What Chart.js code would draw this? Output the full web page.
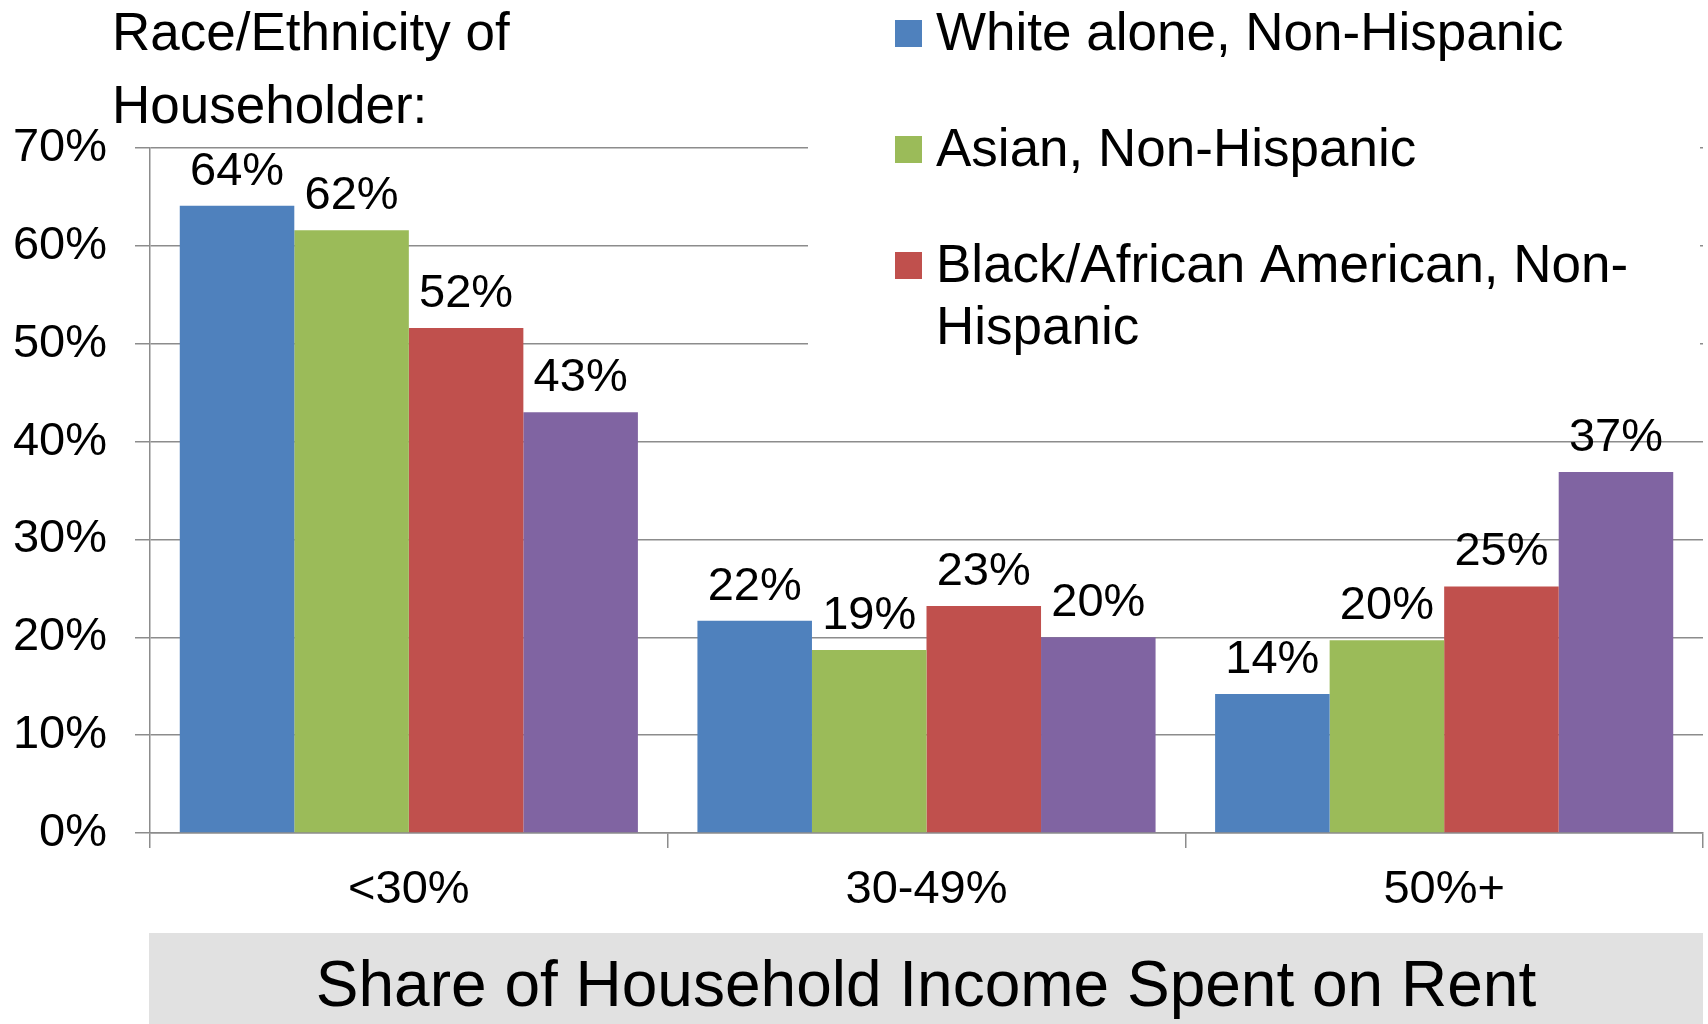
<!DOCTYPE html>
<html>
<head>
<meta charset="utf-8">
<script src="https://cdn.jsdelivr.net/npm/chart.js@4"></script>
<style>
  html, body { margin: 0; padding: 0; background: #ffffff; }
  #wrap { width: 1708px; height: 1024px; position: relative; }
</style>
</head>
<body>
<div id="wrap"><canvas id="c" width="1708" height="1024"></canvas></div>
<script>
// ---- data ----
const categories = ['<30%', '30-49%', '50%+'];
const seriesNames = ['White alone, Non-Hispanic', 'Asian, Non-Hispanic', 'Black/African American, Non-Hispanic', 'Hispanic'];
const whiteValues = [64.1, 21.7, 14.2];
const asianValues = [61.6, 18.7, 19.7];
const blackValues = [51.6, 23.2, 25.2];
const hispanicValues = [43.0, 20.0, 36.9];
const seriesColors = ['#4F81BD', '#9BBB59', '#C0504D', '#8064A2'];
const legendSeries = [0, 1, 2];
const yTickValues = [0, 10, 20, 30, 40, 50, 60, 70];
const titleLines = ['Race/Ethnicity of', 'Householder:'];
const xAxisTitle = 'Share of Household Income Spent on Rent';

const FONT = '"Liberation Sans", Arial, sans-serif';
const allValues = [whiteValues, asianValues, blackValues, hispanicValues];

const dataLabels = {
  id: 'dataLabels',
  afterDatasetsDraw(chart) {
    const ctx = chart.ctx;
    ctx.save();
    ctx.font = '47px ' + FONT;
    ctx.fillStyle = '#000';
    ctx.textAlign = 'center';
    ctx.textBaseline = 'alphabetic';
    chart.data.datasets.forEach((ds, i) => {
      const meta = chart.getDatasetMeta(i);
      meta.data.forEach((bar, j) => {
        ctx.fillText(Math.round(ds.data[j]) + '%', bar.x, bar.y - 21);
      });
    });
    ctx.restore();
  }
};

function wrapText(ctx, text, maxW) {
  const tokens = text.match(/[^\s-]+-?|\s+/g) || [text];
  const lines = [];
  let cur = '';
  tokens.forEach(t => {
    const test = cur + t;
    if (ctx.measureText(test.trim()).width > maxW && cur.trim() !== '') {
      lines.push(cur.trim());
      cur = t.trim() === '' ? '' : t;
    } else {
      cur = test;
    }
  });
  if (cur.trim() !== '') lines.push(cur.trim());
  return lines;
}

// white legend background that hides the gridlines behind the legend
const legendBackground = {
  id: 'legendBackground',
  beforeDatasetsDraw(chart) {
    const ctx = chart.ctx;
    ctx.save();
    ctx.fillStyle = '#ffffff';
    ctx.fillRect(808, 0, 1700 - 808, 380);
    ctx.restore();
  }
};

const decorations = {
  id: 'decorations',
  afterDraw(chart) {
    const ctx = chart.ctx;
    const area = chart.chartArea;
    ctx.save();
    // title (top-left)
    ctx.font = '53px ' + FONT;
    ctx.fillStyle = '#000';
    ctx.textAlign = 'left';
    ctx.textBaseline = 'alphabetic';
    titleLines.forEach((t, i) => ctx.fillText(t, 112, 50 + i * 73));

    // legend (top-right)
    ctx.font = '53px ' + FONT;
    let y = 50;
    legendSeries.forEach(idx => {
      const ds = chart.data.datasets[idx];
      ctx.fillStyle = ds.backgroundColor;
      ctx.fillRect(895, y - 30, 27, 27);
      ctx.fillStyle = '#000';
      const lines = wrapText(ctx, ds.label, 740);
      lines.forEach((ln, k) => ctx.fillText(ln, 936, y + k * 62));
      y += 116;
    });

    // x-axis title box
    const boxL = area.left - 1;
    const boxR = area.right;
    ctx.fillStyle = '#E1E1E1';
    ctx.fillRect(boxL, 933, boxR - boxL, 1024 - 933);
    ctx.fillStyle = '#000';
    ctx.font = '64px ' + FONT;
    ctx.textAlign = 'center';
    ctx.fillText(xAxisTitle, (boxL + boxR) / 2, 1006);
    ctx.restore();
  }
};

const gridColor = '#8C8C8C';

new Chart(document.getElementById('c'), {
  type: 'bar',
  data: {
    labels: categories,
    datasets: allValues.map((vals, i) => ({
      label: seriesNames[i],
      data: vals,
      backgroundColor: seriesColors[i],
      borderWidth: 0,
      categoryPercentage: 0.885,
      barPercentage: 1.0
    }))
  },
  options: {
    responsive: false,
    animation: false,
    devicePixelRatio: 1,
    layout: { padding: { top: 148, right: 5, bottom: 0, left: 0 } },
    plugins: {
      legend: { display: false },
      tooltip: { enabled: false },
      title: { display: false }
    },
    scales: {
      x: {
        offset: true,
        grid: {
          offset: true,
          drawOnChartArea: false,
          drawTicks: true,
          tickLength: 15,
          color: gridColor,
          lineWidth: 1.5
        },
        border: { display: true, color: gridColor, width: 1.5 },
        ticks: {
          font: { family: FONT, size: 47 },
          color: '#000',
          padding: 14,
          maxRotation: 0
        },
        afterFit(scale) { scale.height = 1024 - 833; }
      },
      y: {
        min: 0,
        max: 70,
        afterBuildTicks(scale) { scale.ticks = yTickValues.map(v => ({ value: v })); },
        grid: {
          color: gridColor,
          lineWidth: 1.5,
          drawTicks: true,
          tickLength: 15
        },
        border: { display: true, color: gridColor, width: 1.5 },
        ticks: {
          font: { family: FONT, size: 47 },
          color: '#000',
          padding: 28,
          callback: v => v + '%'
        },
        afterFit(scale) { scale.width = 150; }
      }
    }
  },
  plugins: [legendBackground, dataLabels, decorations]
});
</script>
</body>
</html>
